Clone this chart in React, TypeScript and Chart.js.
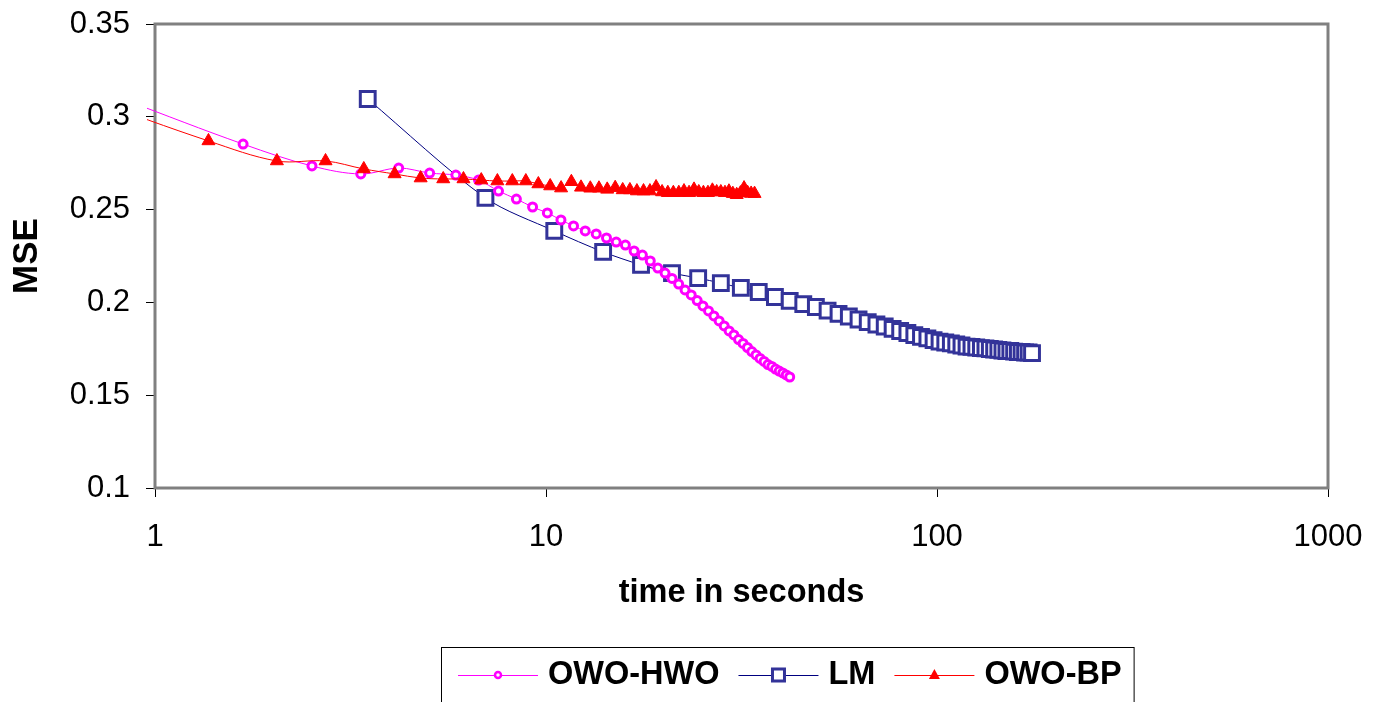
import React, { useEffect, useRef } from 'react';
import { Chart, registerables } from 'chart.js';

Chart.register(...registerables);

const FONT = '"Liberation Sans", Arial, Helvetica, sans-serif';

const seriesNames = ['OWO-HWO', 'LM', 'OWO-BP'];

const hwoTime = [0.84, 1.68, 2.52, 3.36, 4.2, 5.04, 5.88, 6.72, 7.56, 8.4, 9.24, 10.08, 10.92, 11.76, 12.6, 13.44, 14.28, 15.12, 15.96, 16.8, 17.64, 18.48, 19.32, 20.16, 21.0, 21.84, 22.68, 23.52, 24.36, 25.2, 26.04, 26.88, 27.72, 28.56, 29.4, 30.24, 31.08, 31.92, 32.76, 33.6, 34.44, 35.28, 36.12, 36.96, 37.8, 38.64, 39.48, 40.32, 41.16, 42.0];
const hwoMse = [0.309, 0.2853, 0.2735, 0.2692, 0.2724, 0.2697, 0.2686, 0.2659, 0.26, 0.2557, 0.2514, 0.2482, 0.2444, 0.2412, 0.2385, 0.2369, 0.2347, 0.2325, 0.2309, 0.2277, 0.2255, 0.2223, 0.2185, 0.2158, 0.2129, 0.2099, 0.2067, 0.204, 0.201, 0.1981, 0.1954, 0.1927, 0.19, 0.1873, 0.1846, 0.1825, 0.18, 0.1779, 0.1757, 0.1735, 0.1717, 0.1698, 0.1682, 0.1665, 0.1655, 0.1641, 0.163, 0.162, 0.1609, 0.1598];

const lmTime = [3.5, 7, 10.5, 14, 17.5, 21, 24.5, 28, 31.5, 35, 38.5, 42, 45.5, 49, 52.5, 56, 59.5, 63, 66.5, 70, 73.5, 77, 80.5, 84, 87.5, 91, 94.5, 98, 101.5, 105, 108.5, 112, 115.5, 119, 122.5, 126, 129.5, 133, 136.5, 140, 143.5, 147, 150.5, 154, 157.5, 161, 164.5, 168, 171.5, 175];
const lmMse = [0.3096, 0.2563, 0.2385, 0.2272, 0.2202, 0.2158, 0.2131, 0.2104, 0.2078, 0.2056, 0.2029, 0.2008, 0.1991, 0.1975, 0.1956, 0.1938, 0.1924, 0.1908, 0.1894, 0.1881, 0.187, 0.1857, 0.1846, 0.1835, 0.1824, 0.1814, 0.1806, 0.1797, 0.1789, 0.1784, 0.1779, 0.1773, 0.1768, 0.1762, 0.176, 0.1757, 0.1754, 0.1752, 0.1749, 0.1746, 0.1744, 0.1741, 0.1738, 0.1738, 0.1735, 0.1733, 0.1733, 0.173, 0.173, 0.1727];

const bpTime = [0.68, 1.37, 2.05, 2.73, 3.42, 4.1, 4.78, 5.46, 6.15, 6.83, 7.51, 8.2, 8.88, 9.56, 10.25, 10.93, 11.61, 12.29, 12.98, 13.66, 14.34, 15.03, 15.71, 16.39, 17.08, 17.76, 18.44, 19.12, 19.81, 20.49, 21.17, 21.86, 22.54, 23.22, 23.91, 24.59, 25.27, 25.95, 26.64, 27.32, 28.0, 28.69, 29.37, 30.05, 30.74, 31.42, 32.1, 32.78, 33.47, 34.15];
const bpMse = [0.3096, 0.287, 0.2762, 0.2762, 0.2719, 0.2692, 0.267, 0.2665, 0.2665, 0.2659, 0.2654, 0.2654, 0.2654, 0.2638, 0.2627, 0.2616, 0.265, 0.262, 0.2615, 0.2615, 0.2609, 0.2618, 0.2606, 0.2606, 0.26, 0.26, 0.26, 0.2622, 0.2595, 0.2591, 0.2591, 0.2591, 0.26, 0.2591, 0.2609, 0.2595, 0.2591, 0.2591, 0.2604, 0.2595, 0.2595, 0.2591, 0.2599, 0.2586, 0.258, 0.2589, 0.2616, 0.2591, 0.2587, 0.2586];

const xTicks = [1, 10, 100, 1000];
const yTicks = [0.1, 0.15, 0.2, 0.25, 0.3, 0.35];

const HWO_COLOR = '#FF00FF';
const LM_LINE = '#000080';
const LM_MARK = '#333399';
const BP_COLOR = '#FF0000';

function pts(xs: number[], ys: number[]) {
  return xs.map((x, i) => ({ x, y: ys[i] }));
}

export default function App() {
  const ref = useRef<HTMLCanvasElement>(null);

  useEffect(() => {
    document.body.style.margin = '0';
    const canvas = ref.current;
    if (!canvas) return;

    const framePlugin = {
      id: 'plotFrame',
      beforeDatasetsDraw(chart: any) {
        const { ctx, chartArea: a } = chart;
        ctx.save();
        ctx.strokeStyle = '#808080';
        ctx.lineWidth = 3;
        ctx.strokeRect(a.left, a.top, a.right - a.left, a.bottom - a.top);
        ctx.restore();
      },
    };

    const legendPlugin = {
      id: 'boxLegend',
      afterDraw(chart: any) {
        const ctx = chart.ctx as CanvasRenderingContext2D;
        const boxLeft = 441;
        const boxTop = 647;
        const cy = 675;
        ctx.save();
        ctx.font = `bold 32.5px ${FONT}`;
        let x = boxLeft + 17;
        const marks = ['circle', 'square', 'triangle'];
        const lineColors = [HWO_COLOR, LM_LINE, BP_COLOR];
        let right = x;
        seriesNames.forEach((name, i) => {
          ctx.strokeStyle = lineColors[i];
          ctx.lineWidth = 1;
          ctx.beginPath();
          ctx.moveTo(x, cy + 0.5);
          ctx.lineTo(x + 80, cy + 0.5);
          ctx.stroke();
          const mx = x + 40;
          if (marks[i] === 'circle') {
            ctx.beginPath();
            ctx.arc(mx, cy, 3, 0, Math.PI * 2);
            ctx.fillStyle = '#fff';
            ctx.fill();
            ctx.strokeStyle = HWO_COLOR;
            ctx.lineWidth = 2.5;
            ctx.stroke();
          } else if (marks[i] === 'square') {
            ctx.fillStyle = '#fff';
            ctx.fillRect(mx - 6, cy - 6, 12, 12);
            ctx.strokeStyle = LM_MARK;
            ctx.lineWidth = 3;
            ctx.strokeRect(mx - 6, cy - 6, 12, 12);
          } else {
            ctx.beginPath();
            ctx.moveTo(mx, cy - 6);
            ctx.lineTo(mx + 5.5, cy + 4);
            ctx.lineTo(mx - 5.5, cy + 4);
            ctx.closePath();
            ctx.fillStyle = BP_COLOR;
            ctx.fill();
          }
          ctx.fillStyle = '#000';
          ctx.textBaseline = 'middle';
          ctx.textAlign = 'left';
          ctx.fillText(name, x + 90, cy);
          const w = ctx.measureText(name).width;
          right = x + 90 + w;
          x = right + 19;
        });
        ctx.strokeStyle = '#000';
        ctx.lineWidth = 1;
        ctx.strokeRect(boxLeft + 0.5, boxTop + 0.5, right + 12 - boxLeft, 80);
        ctx.restore();
      },
    };

    const clip = { left: 8, top: 2, right: 2, bottom: 2 };

    const chart = new Chart(canvas, {
      type: 'scatter',
      data: {
        datasets: [
          {
            label: seriesNames[0],
            data: pts(hwoTime, hwoMse),
            showLine: true,
            borderColor: HWO_COLOR,
            borderWidth: 1,
            tension: 0.35,
            pointStyle: 'circle',
            pointRadius: 4,
            pointBorderWidth: 3,
            pointBorderColor: HWO_COLOR,
            pointBackgroundColor: '#FFFFFF',
            order: 1,
            clip,
          },
          {
            label: seriesNames[1],
            data: pts(lmTime, lmMse),
            showLine: true,
            borderColor: LM_LINE,
            borderWidth: 1,
            tension: 0.3,
            pointStyle: 'rect',
            pointRadius: 10.5,
            pointBorderWidth: 3,
            pointBorderColor: LM_MARK,
            pointBackgroundColor: '#FFFFFF',
            order: 2,
            clip,
          },
          {
            label: seriesNames[2],
            data: pts(bpTime, bpMse),
            showLine: true,
            borderColor: BP_COLOR,
            borderWidth: 1,
            tension: 0.35,
            pointStyle: 'triangle',
            pointRadius: 7.5,
            pointBorderWidth: 1,
            pointBorderColor: BP_COLOR,
            pointBackgroundColor: BP_COLOR,
            order: 0,
            clip,
          },
        ] as any,
      },
      options: {
        responsive: false,
        animation: false,
        devicePixelRatio: 1,
        events: [],
        layout: { padding: { left: 0, top: 24, right: 52, bottom: 93 } },
        elements: { line: { capBezierPoints: false } },
        plugins: { legend: { display: false }, tooltip: { enabled: false } },
        scales: {
          x: {
            type: 'logarithmic',
            min: 1,
            max: 1000,
            afterBuildTicks: (s: any) => {
              s.ticks = xTicks.map((v) => ({ value: v }));
            },
            afterFit: (s: any) => {
              s.height = 121;
              s.paddingLeft = 0;
              s.paddingRight = 0;
            },
            ticks: {
              color: '#000',
              font: { family: FONT, size: 31 },
              padding: 22,
              autoSkip: false,
              maxRotation: 0,
              callback: (v: any) => String(v),
            },
            grid: {
              display: true,
              drawOnChartArea: false,
              drawTicks: true,
              tickLength: 9,
              tickColor: '#000',
              tickWidth: 1,
            },
            border: { display: false },
            title: {
              display: true,
              text: 'time in seconds',
              color: '#000',
              font: { family: FONT, size: 32.5, weight: 'bold', lineHeight: 1 },
              padding: 0,
            },
          },
          y: {
            type: 'linear',
            min: 0.1,
            max: 0.35,
            afterBuildTicks: (s: any) => {
              s.ticks = yTicks.map((v) => ({ value: v }));
            },
            afterFit: (s: any) => {
              s.width = 155;
              s.paddingTop = 0;
              s.paddingBottom = 0;
            },
            ticks: {
              color: '#000',
              font: { family: FONT, size: 31 },
              padding: 16,
              callback: (v: any) => String(Number(Number(v).toFixed(2))),
            },
            grid: {
              display: true,
              drawOnChartArea: false,
              drawTicks: true,
              tickLength: 9,
              tickColor: '#000',
              tickWidth: 1,
            },
            border: { display: false },
            title: {
              display: true,
              text: 'MSE',
              color: '#000',
              font: { family: FONT, size: 35, weight: 'bold', lineHeight: 1 },
              padding: { top: 10, bottom: 0 },
            },
          },
        },
      } as any,
      plugins: [framePlugin, legendPlugin],
    });

    return () => chart.destroy();
  }, []);

  return <canvas ref={ref} width={1380} height={702} style={{ display: 'block' }} />;
}
